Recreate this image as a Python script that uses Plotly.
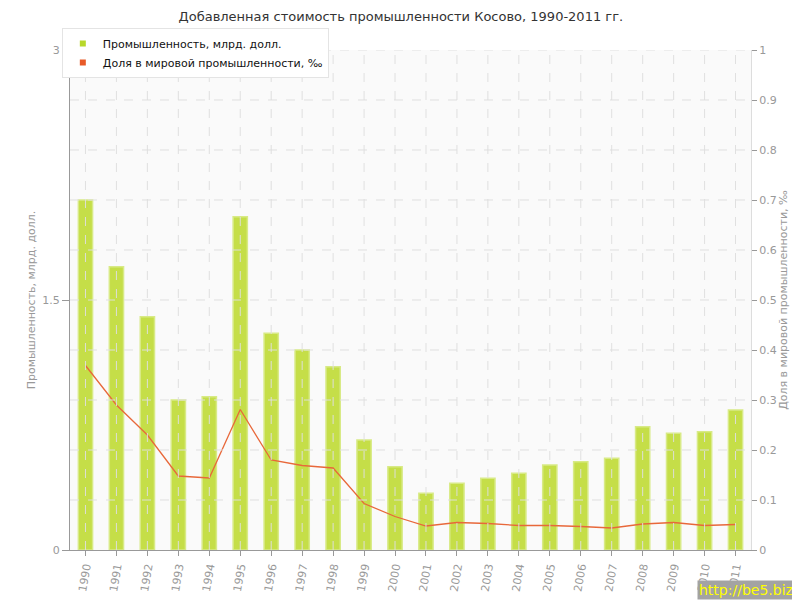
import plotly.graph_objects as go

years = [str(y) for y in range(1990, 2012)]
industry_bn = [2.10, 1.70, 1.40, 0.90, 0.92, 2.00, 1.30, 1.20, 1.10, 0.66, 0.50,
               0.34, 0.40, 0.43, 0.46, 0.51, 0.53, 0.55, 0.74, 0.70, 0.71, 0.84]
world_share = [0.369, 0.290, 0.230, 0.148, 0.144, 0.281, 0.180, 0.169, 0.164, 0.093, 0.067,
               0.048, 0.055, 0.053, 0.049, 0.049, 0.047, 0.044, 0.052, 0.055, 0.049, 0.051]

title_text = "Добавленная стоимость промышленности Косово, 1990-2011 гг."
name_bar = "Промышленность, млрд. долл."
name_line = "Доля в мировой промышленности, ‰"
left_title = "Промышленность, млрд. долл."
right_title = "Доля в мировой промышленности, ‰"
right_ticks = [0, 0.1, 0.2, 0.3, 0.4, 0.5, 0.6, 0.7, 0.8, 0.9, 1]
right_ticklabels = ["0", "0.1", "0.2", "0.3", "0.4", "0.5", "0.6", "0.7", "0.8", "0.9", "1"]
left_ticks = [0, 1.5, 3]
left_ticklabels = ["0", "1.5", "3"]

BAR_C = "#c5de48"
LINE_C = "#e8683a"
FONT = "DejaVu Sans"
GRID_C = "rgba(222,222,222,0.95)"

fig = go.Figure()
fig.add_trace(go.Bar(x=years, y=industry_bn, width=0.46, name=name_bar,
                     marker=dict(color=BAR_C, line=dict(color="#d8ea86", width=1.5)),
                     showlegend=False, yaxis="y"))
fig.add_trace(go.Scatter(x=years, y=world_share, mode="lines", name=name_line,
                         line=dict(color=LINE_C, width=1.3), showlegend=False, yaxis="y2"))
# legend-only entries (square swatches)
fig.add_trace(go.Scatter(x=[None], y=[None], mode="markers", name=name_bar,
                         marker=dict(symbol="square", size=6, color="#b8d82a")))
fig.add_trace(go.Scatter(x=[None], y=[None], mode="markers", name=name_line,
                         marker=dict(symbol="square", size=6, color="#e85a28"), yaxis="y2"))

# dashed grid drawn above the bars (as in the reference)
shapes = []
for i in range(len(years)):
    shapes.append(dict(type="line", xref="x", yref="paper", x0=i, x1=i, y0=0, y1=1,
                       line=dict(color=GRID_C, width=1, dash="dash"), layer="above"))
for v in right_ticks[1:]:
    shapes.append(dict(type="line", xref="paper", yref="y2", x0=0, x1=1, y0=v, y1=v,
                       line=dict(color=GRID_C, width=1, dash="dash"), layer="above"))

# page body has an 8px margin -> figure sized 792x592
fig.update_layout(
    width=792, height=592,
    margin=dict(l=62, r=49, t=42, b=50),
    paper_bgcolor="white", plot_bgcolor="#fafafa",
    font=dict(family=FONT, size=11, color="#999"),
    title=dict(text=title_text, x=0.496, xanchor="center", y=0.985, yanchor="middle",
               font=dict(family=FONT, size=13, color="#333")),
    shapes=shapes,
    xaxis=dict(type="category", range=[-0.5, 21.5], showgrid=False, automargin=False,
               showline=True, linecolor="#999", linewidth=1,
               ticks="outside", ticklen=5, tickcolor="#999", tickangle=-80,
               tickfont=dict(family=FONT, size=11, color="#999")),
    yaxis=dict(range=[0, 3], tickvals=left_ticks, ticktext=left_ticklabels, automargin=False,
               showgrid=False, zeroline=False, showline=True, linecolor="#999", linewidth=1,
               ticks="outside", ticklen=7, tickcolor="#999",
               tickfont=dict(family=FONT, size=11, color="#999"),
               title=dict(text=left_title, font=dict(family=FONT, size=11, color="#999"), standoff=4)),
    yaxis2=dict(range=[0, 1], tickvals=right_ticks, ticktext=right_ticklabels, automargin=False,
                overlaying="y", side="right", showgrid=False, zeroline=False,
                showline=True, linecolor="#ddd", linewidth=1,
                ticks="outside", ticklen=5, tickcolor="#999",
                tickfont=dict(family=FONT, size=11, color="#999"),
                title=dict(text=right_title, font=dict(family=FONT, size=11, color="#999"), standoff=3)),
    legend=dict(x=-0.012, y=1.044, xanchor="left", yanchor="top",
                bgcolor="white", bordercolor="#e4e4e4", borderwidth=1,
                font=dict(family=FONT, size=11, color="#111"),
                itemwidth=30, tracegroupgap=0),
    showlegend=True,
)

fig.add_annotation(text="http://be5.biz/", xref="paper", yref="paper",
                   x=1.0 + 49/681, y=-0.1, xanchor="right", yanchor="bottom",
                   showarrow=False, bgcolor="#a3a3a3",
                   font=dict(family=FONT, size=14, color="#ffff00"), borderpad=1)

fig.write_html("out.html")
